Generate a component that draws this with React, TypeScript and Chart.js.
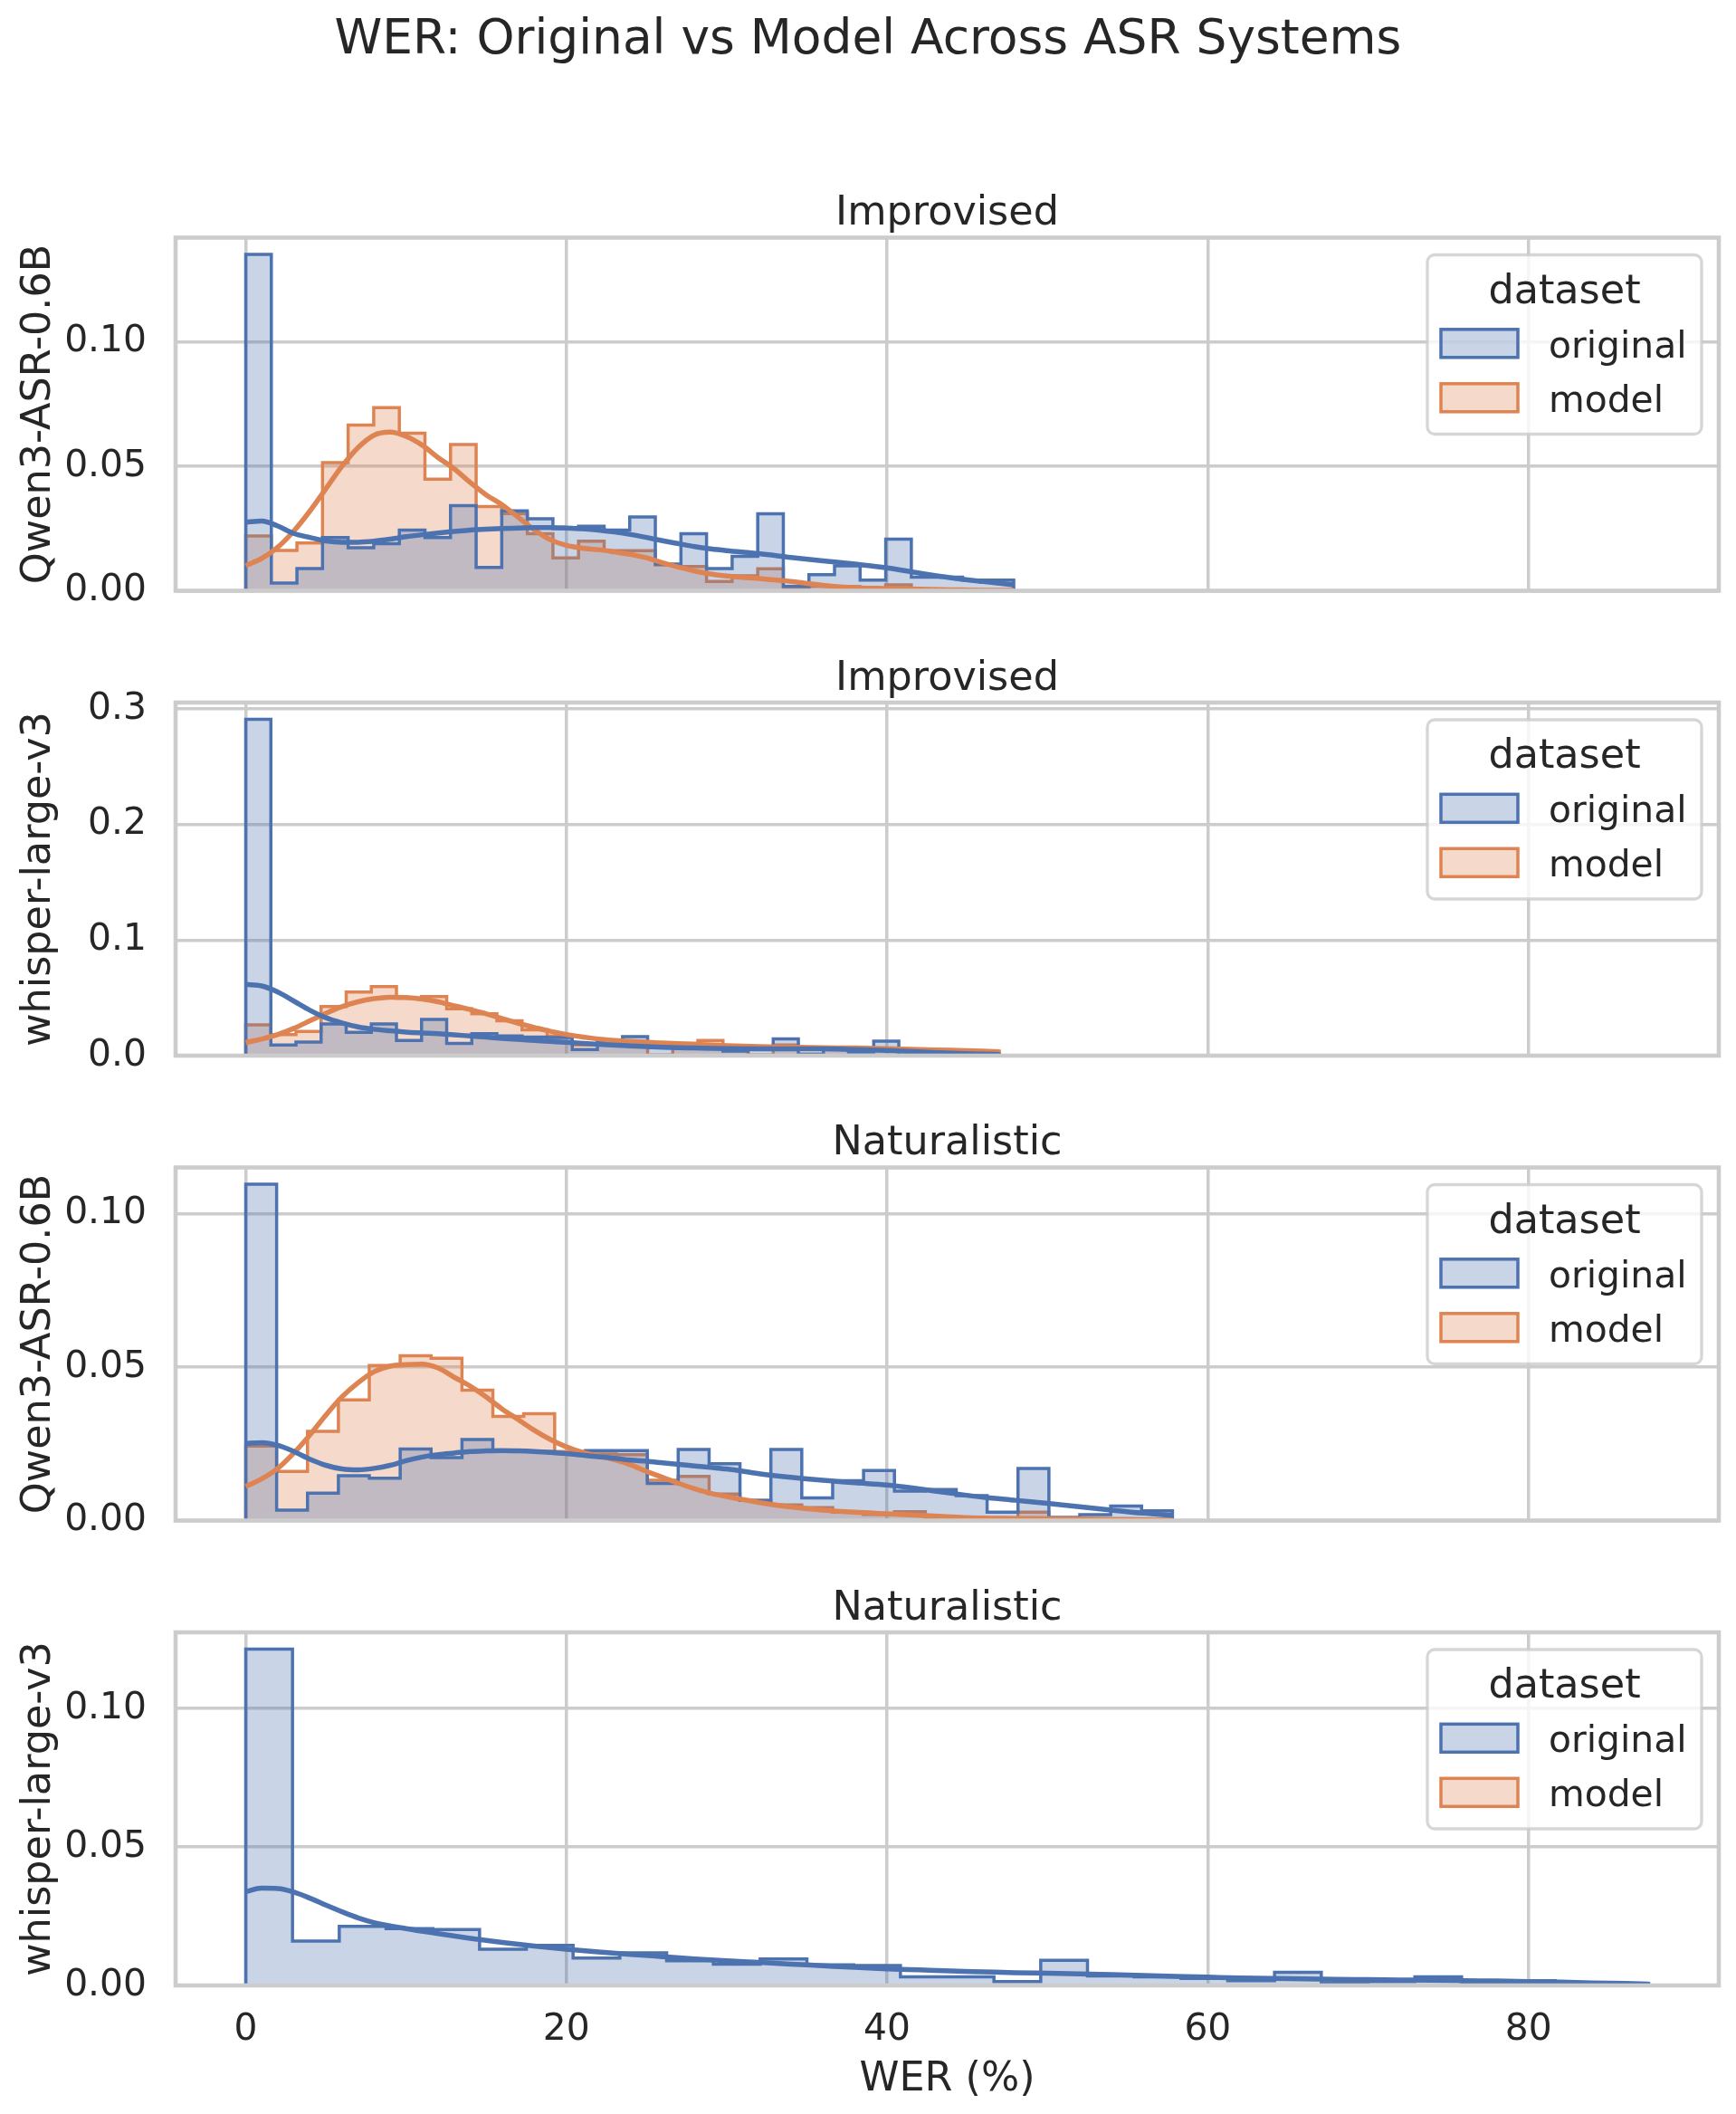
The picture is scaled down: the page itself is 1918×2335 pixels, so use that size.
import React, { useEffect, useRef } from 'react';
import { Chart, registerables } from 'chart.js';

Chart.register(...registerables);

// ---------- text ----------
const figureTitle = 'WER: Original vs Model Across ASR Systems';
const xAxisTitle = 'WER (%)';
const legendTitle = 'dataset';
const seriesNames = ['original', 'model'];
const werTicks = [0, 20, 40, 60, 80];

const panelTitles = ['Improvised', 'Improvised', 'Naturalistic', 'Naturalistic'];
const panelSystems = ['Qwen3-ASR-0.6B', 'whisper-large-v3', 'Qwen3-ASR-0.6B', 'whisper-large-v3'];
// upper edge of the last histogram bin (WER %), bins start at 0
const panelBinUpper = [47.9, 47.0, 57.8, 87.5];
const panelYTicks = [
  [0, 0.05, 0.1],
  [0, 0.1, 0.2, 0.3],
  [0, 0.05, 0.1],
  [0, 0.05, 0.1],
];
const panelYDecimals = [2, 1, 2, 2];

// ---------- histogram densities (30 bins each) ----------
const qwenImprovOriginal = [0.1351, 0.0031, 0.0089, 0.0214, 0.0173, 0.0189, 0.0244, 0.0214, 0.0342, 0.0094, 0.0321, 0.0289, 0.0250, 0.0259, 0.0244, 0.0296, 0.0107, 0.0229, 0.0089, 0.0138, 0.0309, 0.0018, 0.0065, 0.0100, 0.0043, 0.0207, 0.0055, 0.0055, 0.0043, 0.0043];
const qwenImprovModel = [0.0220, 0.0162, 0.0192, 0.0515, 0.0666, 0.0736, 0.0633, 0.0448, 0.0587, 0.0338, 0.0310, 0.0229, 0.0132, 0.0199, 0.0161, 0.0161, 0.0104, 0.0097, 0.0037, 0.0060, 0.0088, 0.0012, 0.0018, 0.0016, 0.0006, 0.0024, 0.0003, 0.0000, 0.0003, 0.0000];

const whisperImprovOriginal = [0.2909, 0.0092, 0.0118, 0.0275, 0.0202, 0.0275, 0.0131, 0.0314, 0.0105, 0.0189, 0.0170, 0.0160, 0.0157, 0.0052, 0.0130, 0.0165, 0.0079, 0.0066, 0.0066, 0.0040, 0.0052, 0.0144, 0.0013, 0.0073, 0.0031, 0.0126, 0.0005, 0.0026, 0.0020, 0.0013];
const whisperImprovModel = [0.0267, 0.0183, 0.0210, 0.0424, 0.0550, 0.0597, 0.0498, 0.0511, 0.0406, 0.0362, 0.0301, 0.0223, 0.0170, 0.0092, 0.0130, 0.0118, 0.0005, 0.0105, 0.0131, 0.0079, 0.0005, 0.0092, 0.0066, 0.0073, 0.0040, 0.0052, 0.0052, 0.0047, 0.0026, 0.0040];

const qwenNatOriginal = [0.1096, 0.0034, 0.0089, 0.0146, 0.0138, 0.0233, 0.0205, 0.0264, 0.0225, 0.0225, 0.0220, 0.0228, 0.0228, 0.0121, 0.0232, 0.0185, 0.0066, 0.0232, 0.0074, 0.0130, 0.0163, 0.0096, 0.0101, 0.0081, 0.0027, 0.0170, 0.0010, 0.0019, 0.0047, 0.0032];
const qwenNatModel = [0.0243, 0.0160, 0.0291, 0.0393, 0.0505, 0.0537, 0.0529, 0.0425, 0.0339, 0.0348, 0.0225, 0.0217, 0.0215, 0.0131, 0.0144, 0.0086, 0.0066, 0.0051, 0.0042, 0.0027, 0.0020, 0.0029, 0.0007, 0.0007, 0.0004, 0.0027, 0.0003, 0.0003, 0.0002, 0.0002];

const whisperNatOriginal = [0.1214, 0.0160, 0.0213, 0.0205, 0.0202, 0.0131, 0.0145, 0.0099, 0.0118, 0.0089, 0.0077, 0.0096, 0.0074, 0.0072, 0.0031, 0.0031, 0.0014, 0.0091, 0.0034, 0.0031, 0.0025, 0.0017, 0.0047, 0.0009, 0.0014, 0.0031, 0.0009, 0.0017, 0.0007, 0.0007];
const whisperNatModel: number[] = [];

// ---------- density curves ----------
const qwenImprovKdeX = [0, 1, 2, 3, 4, 5, 6, 7, 8, 9, 10, 11, 12, 13, 14, 15, 16, 17, 18, 19, 20, 21, 22, 23, 24, 25, 26, 27, 28, 29, 30, 32, 34, 36, 38, 40, 42, 44, 46, 47.9];
const qwenImprovKdeOriginal = [0.0275, 0.0280, 0.0260, 0.0230, 0.0214, 0.0200, 0.0195, 0.0195, 0.0199, 0.0207, 0.0217, 0.0225, 0.0232, 0.0238, 0.0244, 0.0247, 0.0250, 0.0252, 0.0254, 0.0254, 0.0252, 0.0249, 0.0244, 0.0236, 0.0226, 0.0214, 0.0201, 0.0189, 0.0177, 0.0168, 0.0161, 0.0149, 0.0134, 0.0120, 0.0107, 0.0092, 0.0071, 0.0052, 0.0037, 0.0024];
const qwenImprovKdeModel = [0.0101, 0.0130, 0.0175, 0.0240, 0.0320, 0.0410, 0.0500, 0.0575, 0.0625, 0.0637, 0.0620, 0.0585, 0.0535, 0.0490, 0.0435, 0.0385, 0.0345, 0.0295, 0.0245, 0.0205, 0.0182, 0.0171, 0.0165, 0.0156, 0.0146, 0.0132, 0.0112, 0.0095, 0.0079, 0.0067, 0.0059, 0.0049, 0.0037, 0.0022, 0.0012, 0.0009, 0.0006, 0.0004, 0.0002, 0.0002];

const whisperImprovKdeX = [0, 1, 2, 3, 4, 5, 6, 7, 8, 9, 10, 11, 12, 13, 14, 15, 16, 17, 18, 19, 20, 22, 24, 26, 28, 30, 32, 34, 36, 38, 40, 42, 44, 46, 47];
const whisperImprovKdeOriginal = [0.0616, 0.0603, 0.0550, 0.0472, 0.0393, 0.0328, 0.0283, 0.0249, 0.0228, 0.0215, 0.0204, 0.0196, 0.0189, 0.0180, 0.0170, 0.0160, 0.0149, 0.0140, 0.0131, 0.0123, 0.0115, 0.0097, 0.0084, 0.0073, 0.0066, 0.0060, 0.0058, 0.0058, 0.0058, 0.0052, 0.0045, 0.0034, 0.0021, 0.0013, 0.0010];
const whisperImprovKdeModel = [0.0113, 0.0144, 0.0183, 0.0236, 0.0301, 0.0367, 0.0424, 0.0466, 0.0493, 0.0506, 0.0503, 0.0490, 0.0466, 0.0432, 0.0398, 0.0362, 0.0320, 0.0280, 0.0244, 0.0210, 0.0183, 0.0144, 0.0123, 0.0110, 0.0097, 0.0086, 0.0079, 0.0073, 0.0068, 0.0066, 0.0060, 0.0052, 0.0047, 0.0039, 0.0034];

const qwenNatKdeX = [0, 1, 2, 3, 4, 5, 6, 7, 8, 9, 10, 11, 12, 13, 14, 15, 16, 17, 18, 19, 20, 21, 22, 23, 24, 25, 26, 27, 28, 29, 30, 32, 34, 36, 38, 40, 42, 44, 46, 48, 50, 52, 54, 56, 57.8];
const qwenNatKdeOriginal = [0.0251, 0.0254, 0.0245, 0.0225, 0.0200, 0.0180, 0.0168, 0.0165, 0.0170, 0.0180, 0.0195, 0.0207, 0.0215, 0.0220, 0.0225, 0.0227, 0.0228, 0.0227, 0.0225, 0.0222, 0.0218, 0.0213, 0.0208, 0.0203, 0.0197, 0.0193, 0.0188, 0.0183, 0.0178, 0.0173, 0.0168, 0.0153, 0.0141, 0.0131, 0.0123, 0.0116, 0.0103, 0.0089, 0.0076, 0.0066, 0.0056, 0.0045, 0.0034, 0.0024, 0.0017];
const qwenNatKdeModel = [0.0111, 0.0136, 0.0170, 0.0220, 0.0279, 0.0344, 0.0403, 0.0449, 0.0485, 0.0503, 0.0508, 0.0510, 0.0497, 0.0467, 0.0438, 0.0403, 0.0363, 0.0329, 0.0294, 0.0264, 0.0240, 0.0222, 0.0210, 0.0198, 0.0182, 0.0160, 0.0141, 0.0121, 0.0104, 0.0089, 0.0078, 0.0059, 0.0044, 0.0034, 0.0027, 0.0022, 0.0017, 0.0012, 0.0008, 0.0007, 0.0006, 0.0005, 0.0004, 0.0003, 0.0002];

const whisperNatKdeX = [0, 1, 2, 3, 4, 5, 6, 7, 8, 10, 12, 14, 16, 18, 20, 22, 24, 26, 28, 30, 32, 34, 36, 38, 40, 42, 44, 46, 48, 50, 52, 54, 56, 58, 60, 62, 64, 66, 68, 70, 72, 74, 76, 78, 80, 82, 84, 86, 87.5];
const whisperNatKdeOriginal = [0.0339, 0.0351, 0.0350, 0.0337, 0.0315, 0.0290, 0.0266, 0.0244, 0.0227, 0.0205, 0.0187, 0.0170, 0.0155, 0.0142, 0.0131, 0.0121, 0.0112, 0.0104, 0.0096, 0.0089, 0.0083, 0.0077, 0.0071, 0.0065, 0.0060, 0.0056, 0.0052, 0.0049, 0.0046, 0.0044, 0.0042, 0.0039, 0.0036, 0.0033, 0.0030, 0.0027, 0.0025, 0.0024, 0.0022, 0.0021, 0.0020, 0.0019, 0.0017, 0.0016, 0.0014, 0.0012, 0.0009, 0.0007, 0.0005];
const whisperNatKdeModel: number[] = [];

// ---------- style ----------
const FONT_FAMILY = '"DejaVu Sans", "Liberation Sans", sans-serif';
const TEXT_COLOR = '#262626';
const GRID_COLOR = '#cccccc';
const SERIES_COLORS = ['#4c72b0', '#dd8452'];
const FILL_ALPHA = 0.3;
const SIZE_SUPTITLE = 53.4;
const SIZE_TITLE = 44.5;
const SIZE_TICK = 40.8;

// ---------- page geometry ----------
const PAGE_W = 1918;
const PAGE_H = 2335;
const AXES_LEFT = 194;
const AXES_RIGHT = 1899;
const AXES_TOP = 262.5;
const AXES_STEP = 513.5;
const AXES_H = 390;

type Panel = {
  title: string;
  system: string;
  hi: number;
  original: number[];
  model: number[];
  kdeX: number[];
  kdeOriginal: number[];
  kdeModel: number[];
  yTicks: number[];
  yDecimals: number;
};

const panels: Panel[] = [
  { title: panelTitles[0], system: panelSystems[0], hi: panelBinUpper[0], original: qwenImprovOriginal, model: qwenImprovModel, kdeX: qwenImprovKdeX, kdeOriginal: qwenImprovKdeOriginal, kdeModel: qwenImprovKdeModel, yTicks: panelYTicks[0], yDecimals: panelYDecimals[0] },
  { title: panelTitles[1], system: panelSystems[1], hi: panelBinUpper[1], original: whisperImprovOriginal, model: whisperImprovModel, kdeX: whisperImprovKdeX, kdeOriginal: whisperImprovKdeOriginal, kdeModel: whisperImprovKdeModel, yTicks: panelYTicks[1], yDecimals: panelYDecimals[1] },
  { title: panelTitles[2], system: panelSystems[2], hi: panelBinUpper[2], original: qwenNatOriginal, model: qwenNatModel, kdeX: qwenNatKdeX, kdeOriginal: qwenNatKdeOriginal, kdeModel: qwenNatKdeModel, yTicks: panelYTicks[2], yDecimals: panelYDecimals[2] },
  { title: panelTitles[3], system: panelSystems[3], hi: panelBinUpper[3], original: whisperNatOriginal, model: whisperNatModel, kdeX: whisperNatKdeX, kdeOriginal: whisperNatKdeOriginal, kdeModel: whisperNatKdeModel, yTicks: panelYTicks[3], yDecimals: panelYDecimals[3] },
];

// shared x range: data extent plus a 5% margin on both sides
const X_HI = Math.max(...panelBinUpper);
const X_MIN = -0.05 * X_HI;
const X_MAX = X_HI * 1.05;

type Frame = { top: number; h: number; padTop: number; padBottom: number; xAxisH: number };

// each panel gets its own canvas; the bottom margin must stay larger than the
// room Chart.js reserves below the lowest y tick label (half label + padding)
const frames: Frame[] = panels.map((_, i) => {
  const axTop = AXES_TOP + i * AXES_STEP;
  const axBottom = axTop + AXES_H;
  const last = i === panels.length - 1;
  const top = i === 0 ? 0 : Math.round(axTop - 60);
  const bottom = last ? PAGE_H : Math.round(axBottom + 60);
  return {
    top,
    h: bottom - top,
    padTop: axTop - top,
    padBottom: last ? 0 : bottom - axBottom,
    xAxisH: last ? PAGE_H - axBottom : 0,
  };
});

function rgba(hex: string, a: number) {
  const n = parseInt(hex.slice(1), 16);
  return `rgba(${(n >> 16) & 255}, ${(n >> 8) & 255}, ${n & 255}, ${a})`;
}

function font(size: number) {
  return `${size}px ${FONT_FAMILY}`;
}

// step outline of a histogram: starts and ends on the baseline
function stepPoints(values: number[], hi: number) {
  const w = hi / values.length;
  const pts = [{ x: 0, y: 0 }];
  values.forEach((v, i) => pts.push({ x: i * w, y: v }));
  pts.push({ x: hi, y: values[values.length - 1] });
  pts.push({ x: hi, y: 0 });
  return pts;
}

function drawLegend(ctx: CanvasRenderingContext2D, a: { top: number; right: number }) {
  const w = 303;
  const h = 198;
  const x = a.right - 19 - w;
  const y = a.top + 19;
  ctx.beginPath();
  if ((ctx as any).roundRect) (ctx as any).roundRect(x, y, w, h, 8);
  else ctx.rect(x, y, w, h);
  ctx.fillStyle = 'rgba(255, 255, 255, 0.8)';
  ctx.fill();
  ctx.lineWidth = 3.3;
  ctx.strokeStyle = 'rgba(204, 204, 204, 0.8)';
  ctx.stroke();

  ctx.fillStyle = TEXT_COLOR;
  ctx.textAlign = 'center';
  ctx.textBaseline = 'alphabetic';
  ctx.font = font(SIZE_TITLE);
  ctx.fillText(legendTitle, x + w / 2, a.top + 72.3);

  seriesNames.forEach((name, r) => {
    const color = SERIES_COLORS[r];
    const py = a.top + 101.3 + r * 60;
    ctx.fillStyle = rgba(color, FILL_ALPHA);
    ctx.fillRect(x + 15, py, 85, 31);
    ctx.strokeStyle = color;
    ctx.lineWidth = 3.5;
    ctx.strokeRect(x + 15, py, 85, 31);
    ctx.fillStyle = TEXT_COLOR;
    ctx.textAlign = 'left';
    ctx.font = font(SIZE_TICK);
    ctx.fillText(name, x + 134, a.top + 132.3 + r * 60);
  });
}

function makeDecor(panel: Panel, index: number, frame: Frame) {
  const last = index === panels.length - 1;
  return {
    id: 'panelDecor' + index,
    afterDatasetsDraw(chart: Chart) {
      const { ctx, chartArea: a } = chart;
      ctx.save();
      ctx.strokeStyle = GRID_COLOR;
      ctx.lineWidth = 4.6;
      ctx.lineJoin = 'miter';
      ctx.strokeRect(a.left, a.top, a.right - a.left, a.bottom - a.top);
      ctx.restore();
    },
    afterDraw(chart: Chart) {
      const { ctx, chartArea: a } = chart;
      ctx.save();
      ctx.fillStyle = TEXT_COLOR;
      ctx.textBaseline = 'alphabetic';
      ctx.textAlign = 'center';

      ctx.font = font(SIZE_TITLE);
      ctx.fillText(panel.title, (a.left + a.right) / 2, a.top - 14.5);

      ctx.save();
      ctx.translate(55, (a.top + a.bottom) / 2);
      ctx.rotate(-Math.PI / 2);
      ctx.fillText(panel.system, 0, 0);
      ctx.restore();

      if (index === 0) {
        ctx.font = font(SIZE_SUPTITLE);
        ctx.fillText(figureTitle, PAGE_W / 2, 59 - frame.top);
      }
      if (last) {
        ctx.font = font(SIZE_TITLE);
        ctx.fillText(xAxisTitle, (a.left + a.right) / 2, 2309 - frame.top);
      }

      drawLegend(ctx, a);
      ctx.restore();
    },
  };
}

function buildConfig(panel: Panel, index: number, frame: Frame): any {
  const last = index === panels.length - 1;
  const [blue, orange] = SERIES_COLORS;
  const datasets: any[] = [];

  const kde = (values: number[], color: string, order: number, label: string) => ({
    type: 'line',
    label,
    data: panel.kdeX.map((x, i) => ({ x, y: values[i] })),
    borderColor: color,
    borderWidth: 5.5,
    fill: false,
    pointRadius: 0,
    cubicInterpolationMode: 'monotone',
    order,
  });
  const hist = (values: number[], color: string, order: number, label: string) => ({
    type: 'line',
    label,
    data: stepPoints(values, panel.hi),
    borderColor: color,
    backgroundColor: rgba(color, FILL_ALPHA),
    borderWidth: 3.5,
    borderJoinStyle: 'miter',
    fill: 'origin',
    stepped: 'before',
    pointRadius: 0,
    order,
  });

  datasets.push(kde(panel.kdeOriginal, blue, 0, seriesNames[0] + ' kde'));
  if (panel.kdeModel.length) datasets.push(kde(panel.kdeModel, orange, 1, seriesNames[1] + ' kde'));
  datasets.push(hist(panel.original, blue, 2, seriesNames[0]));
  if (panel.model.length) datasets.push(hist(panel.model, orange, 3, seriesNames[1]));

  const barMax = Math.max(...panel.original, ...(panel.model.length ? panel.model : [0]));

  return {
    type: 'line',
    data: { datasets },
    options: {
      responsive: false,
      animation: false,
      devicePixelRatio: 1,
      events: [],
      layout: {
        padding: { top: frame.padTop, bottom: frame.padBottom, left: 0, right: PAGE_W - AXES_RIGHT },
      },
      plugins: {
        legend: { display: false },
        title: { display: false },
        tooltip: { enabled: false },
      },
      scales: {
        x: {
          type: 'linear',
          min: X_MIN,
          max: X_MAX,
          afterBuildTicks: (s: any) => {
            s.ticks = werTicks.map((v) => ({ value: v }));
          },
          afterFit: (s: any) => {
            s.height = frame.xAxisH;
          },
          grid: { color: GRID_COLOR, lineWidth: 3.5, drawTicks: false },
          border: { display: false },
          ticks: {
            display: last,
            autoSkip: false,
            maxRotation: 0,
            color: TEXT_COLOR,
            font: { family: FONT_FAMILY, size: SIZE_TICK },
            padding: 25,
            callback: (v: any) => String(v),
          },
        },
        y: {
          type: 'linear',
          min: 0,
          max: barMax * 1.05,
          afterBuildTicks: (s: any) => {
            s.ticks = panel.yTicks.map((v) => ({ value: v }));
          },
          afterFit: (s: any) => {
            s.width = AXES_LEFT;
          },
          grid: { color: GRID_COLOR, lineWidth: 3.5, drawTicks: false },
          border: { display: false },
          ticks: {
            color: TEXT_COLOR,
            font: { family: FONT_FAMILY, size: SIZE_TICK },
            padding: 32,
            callback: (v: any) => Number(v).toFixed(panel.yDecimals),
          },
        },
      },
    },
    plugins: [makeDecor(panel, index, frame)],
  };
}

export default function App() {
  const r0 = useRef<HTMLCanvasElement>(null);
  const r1 = useRef<HTMLCanvasElement>(null);
  const r2 = useRef<HTMLCanvasElement>(null);
  const r3 = useRef<HTMLCanvasElement>(null);
  const refs = [r0, r1, r2, r3];

  useEffect(() => {
    const charts = panels.map((p, i) => {
      const canvas = refs[i].current as HTMLCanvasElement;
      return new Chart(canvas.getContext('2d') as CanvasRenderingContext2D, buildConfig(p, i, frames[i]));
    });
    return () => charts.forEach((c) => c.destroy());
  }, []);

  return (
    <div
      style={{
        position: 'absolute',
        left: 0,
        top: 0,
        width: PAGE_W,
        height: PAGE_H,
        background: '#ffffff',
        overflow: 'hidden',
      }}
    >
      {panels.map((p, i) => (
        <canvas
          key={i}
          ref={refs[i]}
          width={PAGE_W}
          height={frames[i].h}
          style={{ position: 'absolute', left: 0, top: frames[i].top, width: PAGE_W, height: frames[i].h }}
        />
      ))}
    </div>
  );
}
